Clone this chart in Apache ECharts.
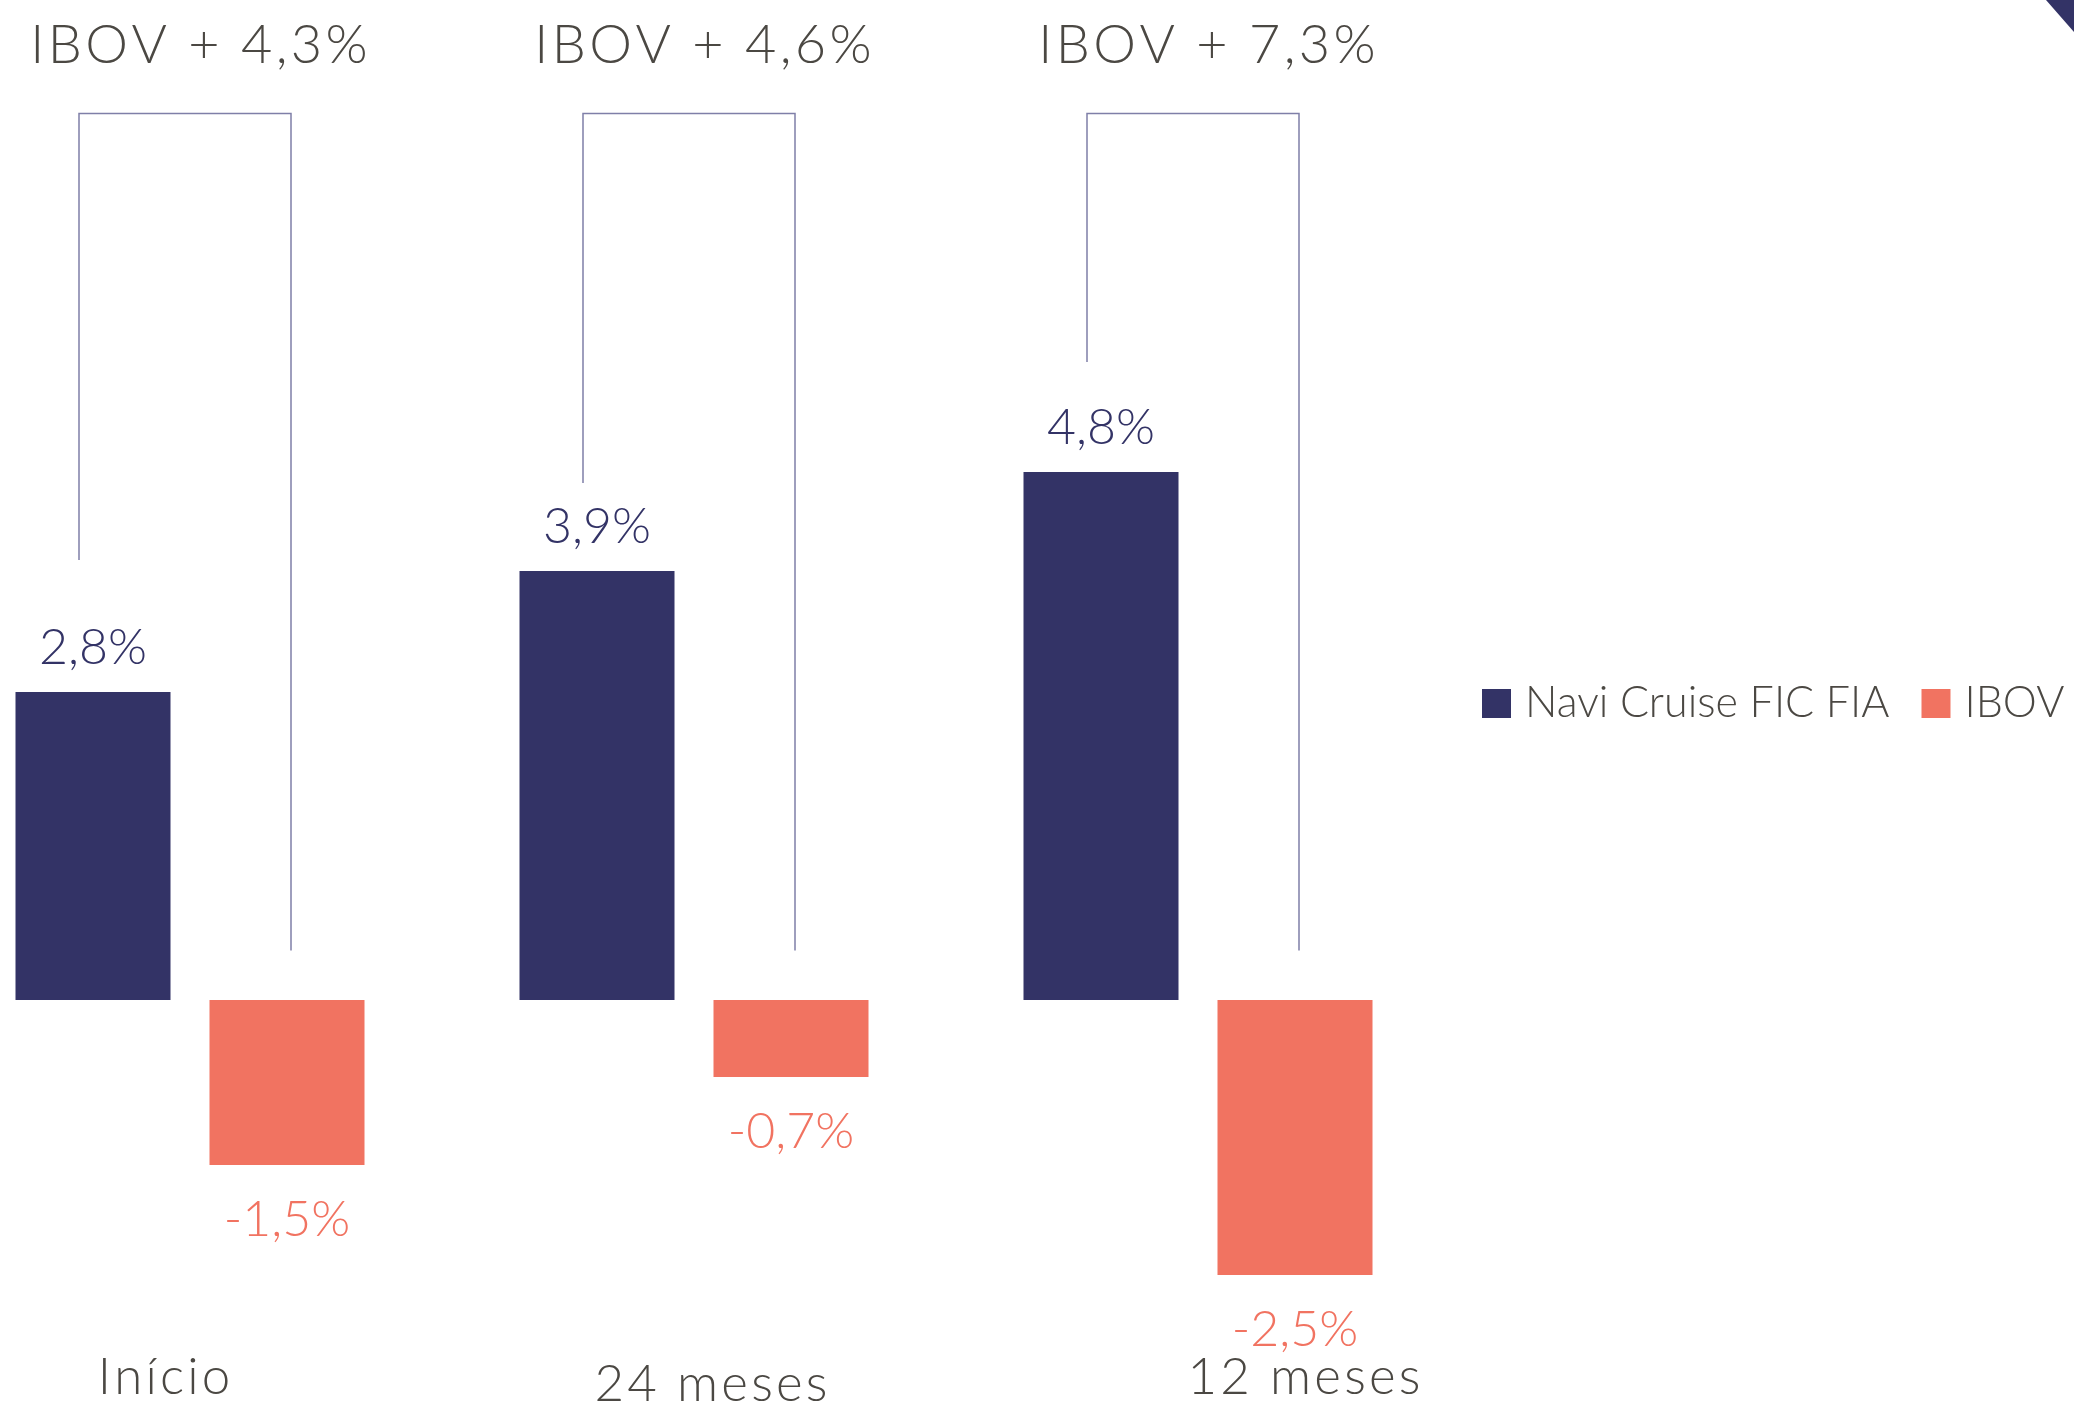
<!DOCTYPE html>
<html>
<head>
<meta charset="utf-8">
<script src="https://cdn.jsdelivr.net/npm/echarts@6/dist/echarts.min.js"></script>
<style>
  html, body { margin: 0; padding: 0; background: #fff; }
  #chart { width: 2074px; height: 1403px; }
</style>
</head>
<body>
<div id="chart"></div>
<script>
// dados
const categories = ['Início', '24 meses', '12 meses'];
const naviValues = [2.8, 3.9, 4.8];
const ibovValues = [-1.5, -0.7, -2.5];
const spreadLabels = ['IBOV + 4,3%', 'IBOV + 4,6%', 'IBOV + 7,3%'];
// colchetes (em %)
const bracketTop = [8.06, 8.06, 8.06];
const bracketLeftEnd = [4.0, 4.7, 5.8];
const bracketRightEnd = [0.45, 0.45, 0.45];

const NAVY = '#333366';
const CORAL = '#F17361';
const GREY = '#4b4843';
const FONT = 'Lato, "Open Sans", sans-serif';
const BAR_W = 155;
const BAR_GAP = 39;

// espaçamento entre letras
function spaced(s) {
  return s.split('').join('\u200A');
}
function pct(v) {
  return String(v).replace('.', ',') + '%';
}

const chart = echarts.init(document.getElementById('chart'));

const catStyle = { fontSize: 51, color: GREY, fontFamily: FONT, fontWeight: 300 };

chart.setOption({
  animation: false,
  grid: { left: -62, width: 1512, top: 10, height: 1342, containLabel: false, outerBoundsMode: 'none' },
  legend: {
    data: ['Navi Cruise FIC FIA', 'IBOV'],
    left: 1477,
    top: 677,
    icon: 'rect',
    itemWidth: 29,
    itemHeight: 29,
    itemGap: 32,
    textStyle: { fontSize: 43, color: GREY, fontFamily: FONT, fontWeight: 300, padding: [0, 0, 0, 9] }
  },
  xAxis: {
    type: 'category',
    data: categories,
    axisLine: { show: false },
    axisTick: { show: false },
    axisLabel: {
      margin: 0,
      interval: 0,
      formatter: function (v, i) {
        return '{c' + i + '|' + spaced(v) + '}';
      },
      rich: {
        c0: Object.assign({ padding: [0, 52, 0, 0] }, catStyle),
        c1: Object.assign({ padding: [7, 0, 0, 34] }, catStyle),
        c2: Object.assign({ padding: [0, 0, 0, 212] }, catStyle)
      }
    }
  },
  yAxis: {
    type: 'value',
    min: -3.2,
    max: 9,
    show: false,
    splitLine: { show: false }
  },
  series: [
    {
      name: 'Navi Cruise FIC FIA',
      type: 'bar',
      barWidth: BAR_W,
      barGap: (BAR_GAP / BAR_W * 100) + '%',
      itemStyle: { color: NAVY },
      label: {
        show: true,
        position: 'top',
        distance: 19,
        fontSize: 50,
        color: NAVY,
        fontFamily: FONT,
        fontWeight: 300,
        formatter: p => pct(p.value)
      },
      data: naviValues
    },
    {
      name: 'IBOV',
      type: 'bar',
      barWidth: BAR_W,
      itemStyle: { color: CORAL },
      label: {
        show: true,
        position: 'bottom',
        distance: 30,
        fontSize: 50,
        color: CORAL,
        fontFamily: FONT,
        fontWeight: 300,
        formatter: p => pct(p.value)
      },
      data: ibovValues
    },
    {
      type: 'custom',
      silent: true,
      z: 1,
      encode: { x: 0, y: [1, 2, 3] },
      data: categories.map((c, i) => [i, bracketLeftEnd[i], bracketTop[i], bracketRightEnd[i]]),
      renderItem: function (params, api) {
        const i = api.value(0);
        const off = (BAR_W + BAR_GAP) / 2;
        const cx = api.coord([i, 0])[0];
        const xl = cx - off - 14;
        const xr = cx + off + 4;
        const yl = api.coord([i, api.value(1)])[1];
        const yt = api.coord([i, api.value(2)])[1];
        const yr = api.coord([i, api.value(3)])[1];
        return {
          type: 'group',
          children: [
            {
              type: 'polyline',
              shape: { points: [[xl, yl], [xl, yt], [xr, yt], [xr, yr]] },
              style: { stroke: '#7f7fa8', lineWidth: 1.5, fill: null }
            },
            {
              type: 'text',
              x: (xl + xr) / 2 + 14,
              y: yt - 68,
              style: {
                text: spaced(spreadLabels[i]),
                fontSize: 54,
                fontFamily: FONT,
                fontWeight: 300,
                fill: GREY,
                align: 'center',
                verticalAlign: 'middle'
              }
            }
          ]
        };
      }
    }
  ],
  graphic: [
    {
      type: 'polygon',
      shape: { points: [[2046, 0], [2074, 0], [2074, 32]] },
      style: { fill: NAVY }
    }
  ]
});
</script>
</body>
</html>
